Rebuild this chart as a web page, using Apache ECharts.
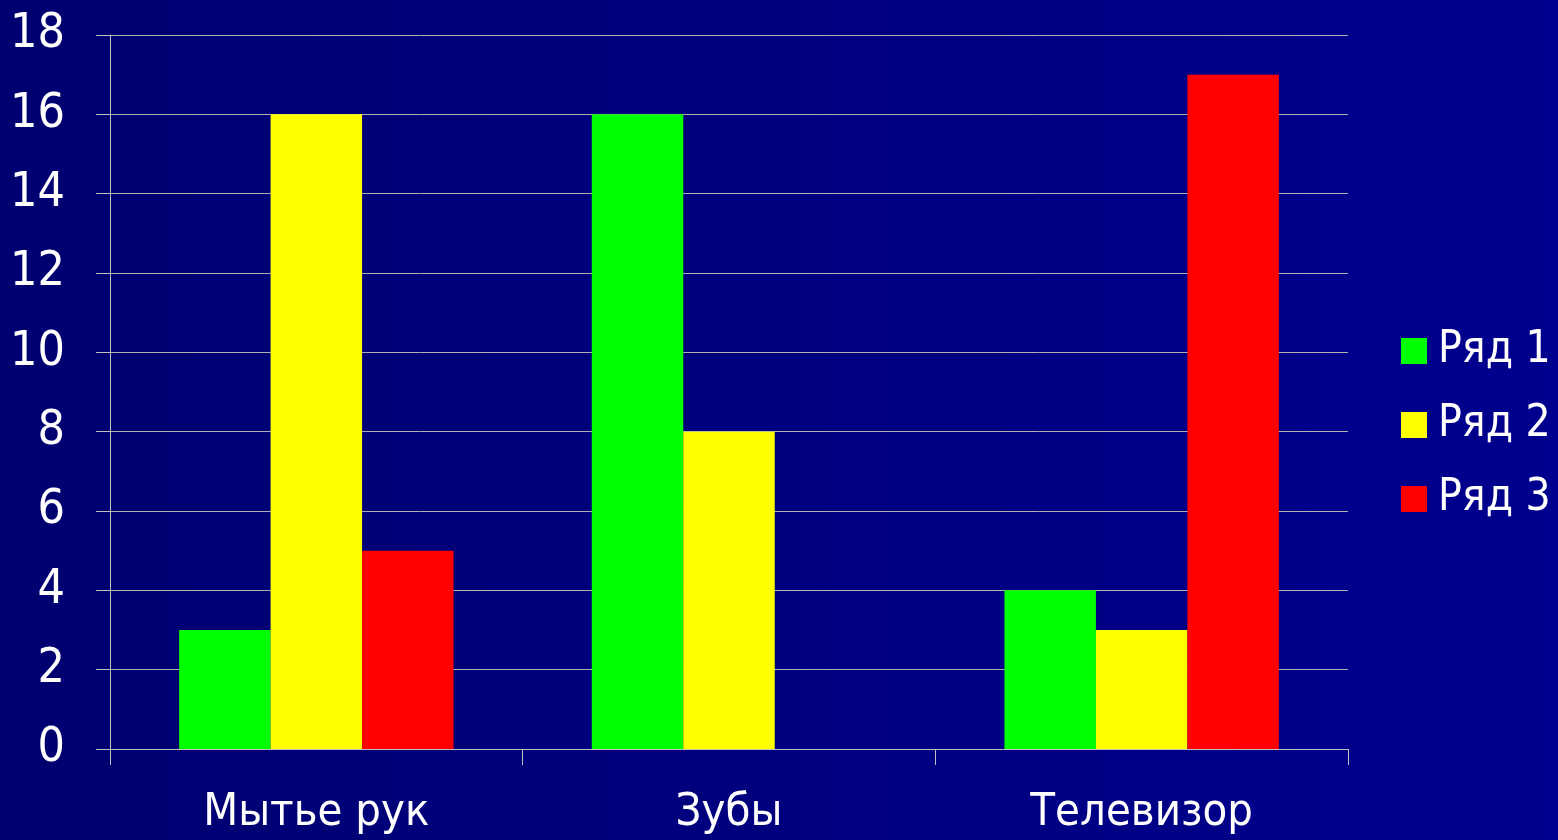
<!DOCTYPE html>
<html>
<head>
<meta charset="utf-8">
<script src="https://cdn.jsdelivr.net/npm/echarts@6/dist/echarts.min.js"></script>
<style>
  html, body { margin: 0; padding: 0; }
  #main { width: 1558px; height: 840px; }
</style>
</head>
<body>
<div id="main"></div>
<script>
const categories = ['Мытье рук', 'Зубы', 'Телевизор'];
const seriesNames = ['Ряд 1', 'Ряд 2', 'Ряд 3'];
const row1 = [3, 16, 4];
const row2 = [16, 8, 3];
const row3 = [5, 0, 17];
const colors = ['#00FF00', '#FFFF00', '#FF0000'];

const chart = echarts.init(document.getElementById('main'));
const font = '"DejaVu Sans Condensed", "DejaVu Sans", sans-serif';

const option = {
  backgroundColor: {
    type: 'linear', x: 0, y: 0, x2: 1, y2: 0,
    colorStops: [
      { offset: 0, color: '#000070' },
      { offset: 1, color: '#00008E' }
    ]
  },
  animation: false,
  textStyle: { fontFamily: font },
  grid: { left: 110, right: 210, top: 35, bottom: 91, containLabel: false },
  legend: {
    orient: 'vertical',
    left: 1396,
    top: 322,
    icon: 'rect',
    itemWidth: 26,
    itemHeight: 26,
    itemGap: 26,
    textStyle: { color: '#FFFFFF', fontSize: 44, lineHeight: 48, fontFamily: font, padding: [0, 0, 0, 6] },
    data: seriesNames
  },
  xAxis: {
    type: 'category',
    data: categories,
    axisLine: { lineStyle: { color: '#C0C0C0', width: 1 } },
    axisTick: { show: true, length: 16, interval: 0, lineStyle: { color: '#C0C0C0' } },
    axisLabel: { color: '#FFFFFF', fontSize: 45, margin: 42, fontFamily: font }
  },
  yAxis: {
    type: 'value',
    min: 0,
    max: 18,
    interval: 2,
    axisLine: { show: true, lineStyle: { color: '#C0C0C0', width: 1 } },
    axisTick: { show: true, length: 14, lineStyle: { color: '#C0C0C0' } },
    splitLine: { lineStyle: { color: '#B0B0B0', width: 1 } },
    axisLabel: { color: '#FFFFFF', fontSize: 48, margin: 45, fontFamily: font }
  },
  series: [
    { name: seriesNames[0], type: 'bar', data: row1, itemStyle: { color: colors[0] }, barGap: '0%', barCategoryGap: '33.5%' },
    { name: seriesNames[1], type: 'bar', data: row2, itemStyle: { color: colors[1] }, barGap: '0%', barCategoryGap: '33.5%' },
    { name: seriesNames[2], type: 'bar', data: row3, itemStyle: { color: colors[2] }, barGap: '0%', barCategoryGap: '33.5%' }
  ]
};

chart.setOption(option);
</script>
</body>
</html>
